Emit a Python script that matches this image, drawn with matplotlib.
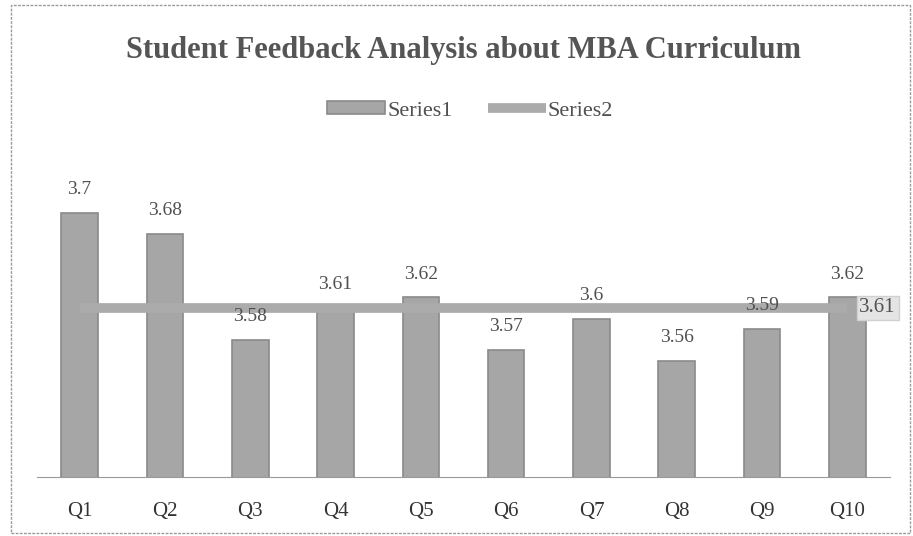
import matplotlib.pyplot as plt
from matplotlib.patches import Rectangle

questions = ["Q1", "Q2", "Q3", "Q4", "Q5", "Q6", "Q7", "Q8", "Q9", "Q10"]
series1 = [3.70, 3.68, 3.58, 3.61, 3.62, 3.57, 3.60, 3.56, 3.59, 3.62]
series2 = [3.61] * 10

plt.rcParams['font.family'] = ['Liberation Serif', 'DejaVu Serif']

fig = plt.figure(figsize=(9.13, 5.36), dpi=100)
fig.patch.set_facecolor("white")
fig.patches.append(Rectangle((0.012, 0.005), 0.985, 0.985, transform=fig.transFigure,
                             fill=False, edgecolor="#9a9a9a", linewidth=1, linestyle=(0, (2, 1))))

ax = fig.add_axes([37 / 913, 1 - 477 / 536, 853 / 913, (477 - 160) / 536])
x = list(range(len(questions)))

bars = ax.bar(x, series1, width=0.43, color="#a6a6a6", edgecolor="#8a8a8a", linewidth=1.2,
              label="Series1", zorder=2)
line, = ax.plot(x, series2, color="#ababab", linewidth=7, solid_capstyle="butt",
                label="Series2", zorder=3)

for xi, v in zip(x, series1):
    ax.text(xi, v + 0.014, f"{v:g}", ha="center", va="bottom", fontsize=14, color="#505050")
ax.text(x[-1] + 0.14, series2[-1], f"{series2[-1]:g}", ha="left", va="center", fontsize=15,
        color="#505050", bbox=dict(facecolor="#e4e4e4", edgecolor="#d0d0d0", pad=2),
        zorder=4)

ax.set_xlim(-0.5, len(questions) - 0.5)
ax.set_ylim(3.45, 3.75)
ax.set_xticks(x)
ax.set_xticklabels(questions, fontsize=15, color="#333333")
ax.set_yticks([])
ax.tick_params(axis="x", length=0, pad=18)
for s in ["top", "right", "left"]:
    ax.spines[s].set_visible(False)
ax.spines["bottom"].set_color("#999999")
ax.set_facecolor("none")

fig.text(0.508, 0.905, "Student Feedback Analysis about MBA Curriculum", ha="center",
         va="center", fontsize=22, fontweight="bold", color="#555555")
fig.legend([bars, line], ["Series1", "Series2"], loc="center", bbox_to_anchor=(0.515, 0.793),
           ncol=2, frameon=False, fontsize=16, handlelength=2.6, handleheight=0.5,
           handletextpad=0.1, columnspacing=1.6, labelcolor="#505050")

fig.savefig("out.png", dpi=100)
